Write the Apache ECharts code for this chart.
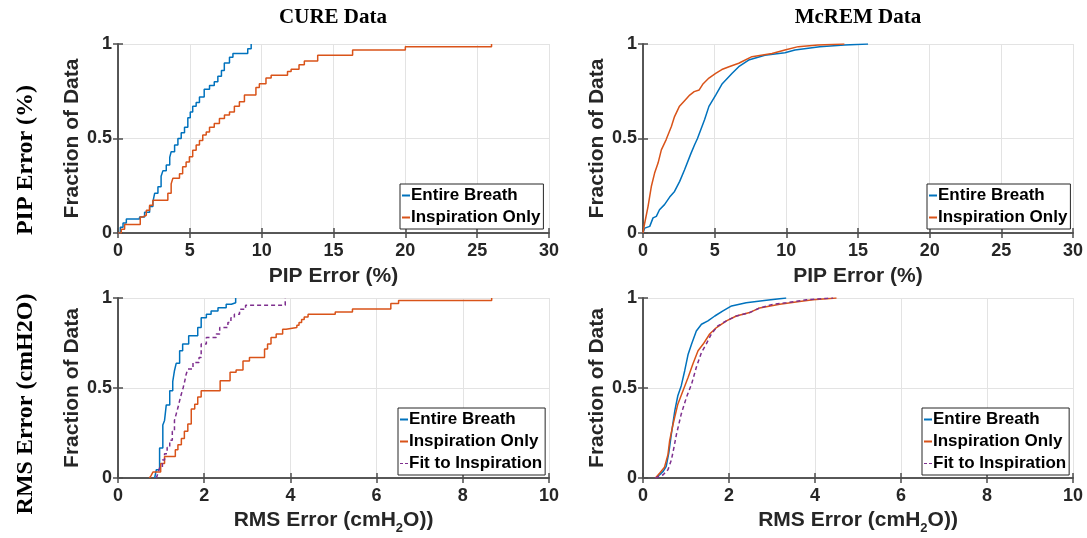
<!DOCTYPE html>
<html>
<head>
<meta charset="utf-8">
<script src="https://cdn.jsdelivr.net/npm/echarts@6/dist/echarts.min.js"></script>
<style>
  html, body { margin: 0; padding: 0; background: #fff; }
  #chart { width: 1087px; height: 538px; }
</style>
</head>
<body>
<div id="chart"></div>
<script>
const curePipEntire = [[0,0],[0.16,0.03],[0.35,0.053],[0.58,0.074],[1.5,0.085],[1.85,0.11],[2.2,0.14],[2.43,0.165],[2.55,0.21],[2.78,0.245],[3.0,0.30],[3.13,0.33],[3.36,0.36],[3.6,0.40],[3.7,0.43],[3.94,0.465],[4.17,0.50],[4.4,0.53],[4.63,0.56],[4.86,0.61],[5.03,0.64],[5.2,0.67],[5.44,0.69],[5.67,0.72],[6.0,0.76],[6.37,0.78],[6.7,0.80],[6.95,0.83],[7.2,0.86],[7.4,0.90],[7.76,0.93],[8.0,0.95],[9.03,0.975],[9.27,1.0]];
const curePipInsp = [[0,0],[0.23,0.02],[0.46,0.045],[1.55,0.085],[1.74,0.094],[1.97,0.12],[2.2,0.147],[2.43,0.173],[3.47,0.21],[3.7,0.26],[3.82,0.29],[4.28,0.314],[4.5,0.35],[4.74,0.376],[4.97,0.403],[5.2,0.438],[5.44,0.465],[5.67,0.49],[5.9,0.518],[6.14,0.535],[6.37,0.56],[6.7,0.58],[7.06,0.606],[7.41,0.624],[7.76,0.64],[8.1,0.67],[8.45,0.694],[8.8,0.73],[9.6,0.77],[9.84,0.79],[10.3,0.82],[10.66,0.835],[11.8,0.855],[12.05,0.866],[12.6,0.89],[12.97,0.91],[13.9,0.94],[16.33,0.968],[20.0,0.985],[26.0,1.0]];

const mcremPipEntire = [[0,0],[0.12,0.026],[0.47,0.035],[0.7,0.08],[0.93,0.088],[1.15,0.123],[1.5,0.15],[1.86,0.19],[2.2,0.22],[2.56,0.273],[2.9,0.335],[3.34,0.42],[3.6,0.467],[3.8,0.5],[4.03,0.546],[4.3,0.6],[4.6,0.67],[5.07,0.73],[5.53,0.79],[6.22,0.845],[6.68,0.88],[7.37,0.915],[8.5,0.94],[9.9,0.954],[10.6,0.968],[12.33,0.986],[14.05,0.995],[15.7,1.0]];
const mcremPipInsp = [[0,0],[0.12,0.053],[0.35,0.14],[0.58,0.246],[0.81,0.317],[1.05,0.37],[1.28,0.44],[1.61,0.493],[1.98,0.563],[2.2,0.616],[2.53,0.669],[2.9,0.7],[3.26,0.73],[3.57,0.748],[3.92,0.757],[4.2,0.79],[4.6,0.82],[5.07,0.845],[5.5,0.865],[6.0,0.88],[6.68,0.898],[7.6,0.933],[9.0,0.95],[9.9,0.968],[10.83,0.986],[12.2,0.995],[14.05,1.0]];

const cureRmsEntire = [[0.85,0],[0.89,0.046],[0.965,0.166],[1.04,0.295],[1.08,0.32],[1.12,0.406],[1.2,0.485],[1.27,0.535],[1.31,0.596],[1.35,0.637],[1.43,0.707],[1.5,0.744],[1.64,0.79],[1.85,0.836],[1.93,0.89],[2.05,0.91],[2.16,0.928],[2.32,0.946],[2.51,0.965],[2.63,0.974],[2.73,1.0]];
const cureRmsInsp = [[0.73,0],[0.77,0.015],[0.81,0.033],[0.99,0.08],[1.08,0.12],[1.33,0.157],[1.39,0.185],[1.47,0.22],[1.54,0.26],[1.62,0.3],[1.7,0.384],[1.78,0.41],[1.85,0.45],[1.93,0.485],[2.37,0.54],[2.6,0.587],[2.74,0.6],[2.9,0.65],[3.05,0.67],[3.4,0.716],[3.47,0.745],[3.55,0.78],[3.67,0.8],[3.82,0.826],[3.9,0.836],[4.15,0.849],[4.2,0.864],[4.26,0.88],[4.32,0.895],[4.41,0.91],[5.04,0.922],[5.44,0.939],[6.33,0.969],[6.51,0.986],[8.67,1.0]];
const cureRmsFit = [[0.89,0],[0.93,0.03],[0.97,0.06],[1.03,0.1],[1.08,0.135],[1.14,0.17],[1.2,0.21],[1.26,0.26],[1.31,0.32],[1.35,0.355],[1.39,0.39],[1.43,0.43],[1.47,0.467],[1.51,0.5],[1.55,0.54],[1.58,0.575],[1.62,0.605],[1.74,0.642],[1.88,0.67],[1.93,0.744],[2.05,0.78],[2.28,0.8],[2.36,0.836],[2.55,0.864],[2.62,0.89],[2.7,0.91],[2.82,0.937],[2.96,0.96],[3.88,1.0]];

const mcremRmsEntire = [[0.29,0],[0.39,0.019],[0.47,0.037],[0.54,0.065],[0.6,0.14],[0.66,0.245],[0.74,0.374],[0.81,0.457],[0.89,0.513],[0.97,0.596],[1.05,0.688],[1.13,0.744],[1.24,0.817],[1.36,0.854],[1.51,0.873],[1.67,0.9],[1.86,0.928],[2.06,0.956],[2.4,0.974],[2.87,0.987],[3.33,1.0]];
const mcremRmsInsp = [[0.29,0],[0.39,0.028],[0.5,0.06],[0.58,0.13],[0.62,0.208],[0.7,0.3],[0.81,0.41],[0.93,0.485],[1.05,0.56],[1.16,0.633],[1.28,0.707],[1.4,0.744],[1.55,0.8],[1.71,0.836],[1.94,0.873],[2.17,0.9],[2.48,0.919],[2.71,0.945],[3.18,0.965],[3.64,0.98],[3.95,0.99],[4.5,1.0]];
const mcremRmsFit = [[0.29,0],[0.47,0.018],[0.58,0.046],[0.66,0.1],[0.72,0.17],[0.78,0.245],[0.89,0.356],[1.01,0.448],[1.13,0.522],[1.24,0.615],[1.36,0.698],[1.47,0.744],[1.59,0.8],[1.74,0.845],[1.94,0.873],[2.17,0.9],[2.48,0.919],[2.71,0.944],[3.02,0.965],[3.33,0.974],[3.8,0.99],[4.42,1.0]];

const colTitles = ['CURE Data', 'McREM Data'];
const rowTitles = ['PIP Error (%)', 'RMS Error (cmH2O)'];
const seriesNames = ['Entire Breath', 'Inspiration Only', 'Fit to Inspiration'];
const yTickLabels = { 0: '0', 0.5: '0.5', 1: '1' };

const BLUE = '#0072BD', ORANGE = '#D95319', PURPLE = '#7E2F8E';
const SANS = '"Liberation Sans", Arial, sans-serif';
const SERIF = '"Liberation Serif", "Times New Roman", serif';
const AXIS_COLOR = '#4d4d4d';
const TEXT_COLOR = '#262626';

const grids = [
  { left: 118, top: 44, width: 431, height: 189 },
  { left: 643, top: 44, width: 430, height: 189 },
  { left: 118, top: 298, width: 431, height: 180 },
  { left: 643, top: 298, width: 430, height: 180 },
];

const rmsName = '{a|RMS Error (cmH}{s|2}{a|O))}';
const xSpecs = [
  { max: 30, interval: 5, name: 'PIP Error (%)', gap: 33 },
  { max: 30, interval: 5, name: 'PIP Error (%)', gap: 33 },
  { max: 10, interval: 2, name: rmsName, gap: 27 },
  { max: 10, interval: 2, name: rmsName, gap: 27 },
];

const axisLine = { show: true, lineStyle: { color: AXIS_COLOR, width: 1.5 } };
const axisTick = { show: true, inside: true, length: 5, lineStyle: { color: AXIS_COLOR, width: 1.5 } };
const splitLine = { show: true, lineStyle: { color: '#e3e3e3', width: 1 } };
const nameStyle = {
  fontFamily: SANS, fontWeight: 'bold', fontSize: 21, color: TEXT_COLOR,
  rich: {
    a: { fontFamily: SANS, fontWeight: 'bold', fontSize: 21, color: TEXT_COLOR, lineHeight: 22, verticalAlign: 'middle' },
    s: { fontFamily: SANS, fontWeight: 'bold', fontSize: 13, color: TEXT_COLOR, lineHeight: 30, verticalAlign: 'bottom' },
  },
};
const tickStyle = { fontFamily: SANS, fontWeight: 'bold', fontSize: 18, color: TEXT_COLOR };

const xAxis = [], yAxis = [];
// bottom / left axes carry labels
xSpecs.forEach((s, i) => {
  xAxis.push({
    type: 'value', gridIndex: i, min: 0, max: s.max, interval: s.interval,
    name: s.name, nameLocation: 'middle', nameGap: s.gap, nameTextStyle: nameStyle,
    axisLine, axisTick, splitLine,
    axisLabel: Object.assign({ margin: 9 }, tickStyle),
  });
  yAxis.push({
    type: 'value', gridIndex: i, min: 0, max: 1, interval: 0.5,
    name: 'Fraction of Data', nameLocation: 'middle', nameGap: 31, nameTextStyle: nameStyle,
    axisLine, axisTick, splitLine,
    axisLabel: Object.assign({ margin: 6, formatter: v => yTickLabels[v] }, tickStyle),
  });
});
// top / right axes close the box
xSpecs.forEach((s, i) => {
  xAxis.push({
    type: 'value', gridIndex: i, position: 'top', min: 0, max: s.max, interval: s.interval,
    axisLine, axisTick, axisLabel: { show: false }, splitLine: { show: false },
  });
  yAxis.push({
    type: 'value', gridIndex: i, position: 'right', min: 0, max: 1, interval: 0.5,
    axisLine, axisTick, axisLabel: { show: false }, splitLine: { show: false },
  });
});

function cdf(name, data, gi, color, opts = {}) {
  return {
    name, type: 'line', data, xAxisIndex: gi, yAxisIndex: gi,
    step: opts.step ? 'end' : false, symbol: 'none', silent: true,
    lineStyle: { color, width: 1.5, type: opts.dashed ? [4, 3] : 'solid' },
    itemStyle: { color },
  };
}

const series = [
  cdf(seriesNames[0], curePipEntire, 0, BLUE, { step: true }),
  cdf(seriesNames[1], curePipInsp, 0, ORANGE, { step: true }),
  cdf(seriesNames[0], mcremPipEntire, 1, BLUE),
  cdf(seriesNames[1], mcremPipInsp, 1, ORANGE),
  cdf(seriesNames[0], cureRmsEntire, 2, BLUE, { step: true }),
  cdf(seriesNames[1], cureRmsInsp, 2, ORANGE, { step: true }),
  cdf(seriesNames[2], cureRmsFit, 2, PURPLE, { step: true, dashed: true }),
  cdf(seriesNames[0], mcremRmsEntire, 3, BLUE),
  cdf(seriesNames[1], mcremRmsInsp, 3, ORANGE),
  cdf(seriesNames[2], mcremRmsFit, 3, PURPLE, { dashed: true }),
];

// short line keys as in the original legend
const legendItems = [
  { name: seriesNames[0], icon: 'rect' },
  { name: seriesNames[1], icon: 'rect' },
  { name: seriesNames[2], icon: 'path://M0,0H3V1H0Z M5,0H8V1H5Z' },
];
const legendPos = [
  { left: 400, top: 184, n: 2 },
  { left: 927, top: 184, n: 2 },
  { left: 398, top: 408, n: 3 },
  { left: 922, top: 408, n: 3 },
];
const legend = legendPos.map(p => ({
  left: p.left, top: p.top, orient: 'vertical',
  data: legendItems.slice(0, p.n),
  selectedMode: false,
  backgroundColor: '#fff', borderColor: '#262626', borderWidth: 1,
  padding: [3, 3, 3, 2], itemGap: 5, itemWidth: 8, itemHeight: 2,
  textStyle: { fontFamily: SANS, fontWeight: 'bold', fontSize: 17, color: '#000', padding: [0, 0, 0, -4] },
}));

const graphic = [
  { type: 'text', x: 333, y: 18, style: { text: colTitles[0], font: 'bold 21px ' + SERIF, fill: '#000', textAlign: 'center', textVerticalAlign: 'middle' } },
  { type: 'text', x: 858, y: 18, style: { text: colTitles[1], font: 'bold 21px ' + SERIF, fill: '#000', textAlign: 'center', textVerticalAlign: 'middle' } },
  { type: 'text', x: 26, y: 160, rotation: Math.PI / 2, style: { text: rowTitles[0], font: 'bold 24px ' + SERIF, fill: '#000', textAlign: 'center', textVerticalAlign: 'middle' } },
  { type: 'text', x: 26, y: 404, rotation: Math.PI / 2, style: { text: rowTitles[1], font: 'bold 24px ' + SERIF, fill: '#000', textAlign: 'center', textVerticalAlign: 'middle' } },
];

const chart = echarts.init(document.getElementById('chart'));
chart.setOption({
  animation: false,
  backgroundColor: '#fff',
  grid: grids,
  xAxis, yAxis, series, legend, graphic,
});
</script>
</body>
</html>
